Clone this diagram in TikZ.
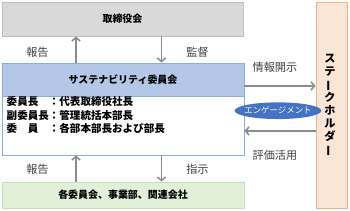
\documentclass[tikz,border=0pt]{standalone}
\usepackage{fontspec}
\setmainfont{Noto Sans CJK JP}
\usetikzlibrary{arrows.meta,shapes.geometric}
\definecolor{boardgray}{HTML}{D9D9D9}
\definecolor{boardline}{HTML}{BFBFBF}
\definecolor{headblue}{HTML}{B4C7E7}
\definecolor{lineblue}{HTML}{8FAADC}
\definecolor{unitgreen}{HTML}{E2F0D9}
\definecolor{unitline}{HTML}{C5E0B4}
\definecolor{holderfill}{HTML}{FBE5D6}
\definecolor{holderline}{HTML}{F4B183}
\definecolor{engblue}{HTML}{4472C4}
\definecolor{arrowgray}{HTML}{8C8C8C}
\definecolor{textgray}{HTML}{404040}
\begin{document}
\begin{tikzpicture}[x=0.03cm,y=-0.03cm,>={Straight Barb[length=3pt,width=7pt]}]
  \tikzset{
    panel/.style={draw,rectangle,inner sep=0pt,line width=0.8pt,font=\bfseries\fontsize{8.5}{10}\selectfont},
    link/.style={draw=arrowgray,line width=1.3pt,->},
    lbl/.style={text=textgray,font=\fontsize{9.5}{11}\selectfont},
    engage/.style={ellipse,fill=engblue,inner sep=0pt,minimum width=2.6cm,minimum height=0.5cm,
      label={[text=white,inner sep=0pt,font=\fontsize{7.2}{9}\selectfont]center:#1}}
  }
  \useasboundingbox (0,0) rectangle (350,210);
  % boxes
  \node[panel,fill=boardgray,draw=boardline,minimum width=7.23cm,minimum height=1.02cm] (board) at (122.5,19) {取締役会};
  \node[panel,fill=headblue,draw=lineblue,minimum width=7.26cm,minimum height=0.99cm] (committee) at (123,79.5) {サステナビリティ委員会};
  \node[panel,fill=white,draw=lineblue,minimum width=7.26cm,minimum height=1.77cm] (members) at (123,125.5) {};
  \node[anchor=west,align=left,inner sep=0pt,font=\bfseries\fontsize{9}{11.1}\selectfont] (names) at (6.5,115)
    {委員長　：代表取締役社長\\副委員長：管理統括本部長\\委　員　：各部本部長および部長};
  \node[panel,fill=unitgreen,draw=unitline,minimum width=7.26cm,minimum height=0.78cm] (units) at (123,195) {各委員会、事業部、関連会社};
  \node[panel,fill=holderfill,draw=holderline,minimum width=0.93cm,minimum height=6.18cm] (holder) at (331.5,105) {};
  \node[align=center,inner sep=0pt,font=\bfseries\fontsize{9.5}{11.1}\selectfont] (holdertext) at (330,105)
    {ス\\テ\\\rotatebox[origin=c]{90}{ー}\\ク\\ホ\\ル\\ダ\\\rotatebox[origin=c]{90}{ー}};
  % arrows
  \coordinate (upx) at (76,0);
  \coordinate (dnx) at (161.5,0);
  \coordinate (infoy) at (0,86);
  \coordinate (evaly) at (0,131);
  \draw[link] (committee.north -| upx) -- (board.south -| upx);
  \draw[link] (board.south -| dnx) -- (committee.north -| dnx);
  \draw[link] (units.north -| upx) -- (members.south -| upx);
  \draw[link] (members.south -| dnx) -- (units.north -| dnx);
  \draw[link] (committee.east |- infoy) -- (holder.west |- infoy);
  \draw[link] (holder.west |- evaly) -- (members.east |- evaly);
  \node[engage=エンゲージメント] (engagement) at (278,110.7) {};
  % labels
  \node[lbl] (report1) at (37.5,52) {報告};
  \node[lbl] (oversee) at (197.5,52) {監督};
  \node[lbl] (report2) at (37.5,169) {報告};
  \node[lbl] (direct) at (197.5,169) {指示};
  \node[lbl] (disclose) at (275,67) {情報開示};
  \node[lbl] (evaluate) at (275,155) {評価活用};
\end{tikzpicture}
\end{document}
